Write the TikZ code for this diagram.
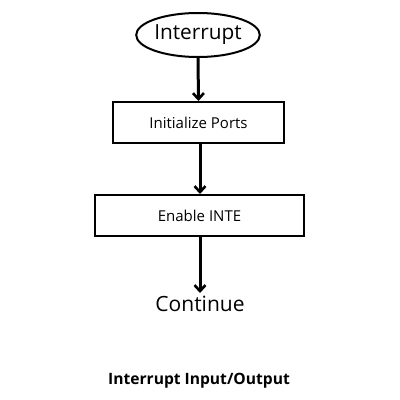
\documentclass[tikz,border=0pt]{standalone}
\usepackage{fontspec}
\setmainfont{Open Sans}
\usetikzlibrary{shapes.geometric,arrows.meta}
\begin{document}
\begin{tikzpicture}[x=1pt,y=-1pt,
  boxst/.style={draw,line width=2pt,minimum width=#1,minimum height=41pt,inner sep=0pt,font=\fontsize{15}{17}\selectfont},
  arr/.style={line width=3pt,-{Straight Barb[length=6pt,width=11pt,line width=2.6pt]}}]
\useasboundingbox (0,0) rectangle (400,400);
\node[draw,ellipse,line width=2pt,minimum width=120pt,minimum height=44pt,inner sep=0pt,font=\fontsize{20.8}{22}\selectfont] (int) at (198,35) {Interrupt};
\node[boxst=171pt] (init) at (198.5,122.5) {Initialize Ports};
\node[boxst=209pt] (en) at (199.5,215.5) {Enable INTE};
\node[font=\fontsize{21}{22}\selectfont,inner sep=0pt,anchor=north] (cont) at (200,296) {Continue};
\node[font=\bfseries\fontsize{15.6}{18}\selectfont] (cap) at (199,381) {Interrupt Input/Output};
\draw[arr] (int.south) -- (init.north);
\draw[arr] (init.south -| 200,0) -- (en.north -| 200,0);
\draw[arr,shorten >=3pt] (en.south -| 200,0) -- (cont.north);
\end{tikzpicture}
\end{document}
